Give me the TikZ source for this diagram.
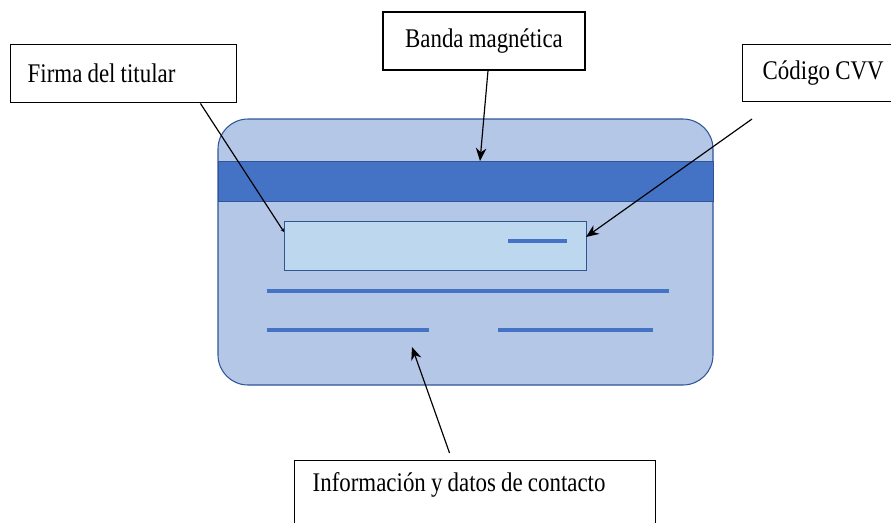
\documentclass[tikz,border=0pt]{standalone}
\usepackage{fontspec}
\setmainfont[FakeStretch=0.85, WordSpace=0.9]{Liberation Serif}
\usetikzlibrary{positioning,arrows.meta}
\definecolor{tarjeta}{HTML}{B4C7E7}
\definecolor{borde}{HTML}{2F5597}
\definecolor{azulbanda}{HTML}{4472C4}
\definecolor{azulpanel}{HTML}{BDD7EE}
\tikzset{
  caja/.style={draw, line width=1.2pt, fill=white, font=\fontsize{23}{26}\selectfont, inner sep=0pt},
  flecha/.style={-{Stealth[length=11pt,width=9pt]}, line width=1pt},
  raya/.style={draw=azulbanda, line width=2.6pt}
}

\begin{document}
\begin{tikzpicture}[x=0.03cm, y=-0.03cm]
  \clip (0,0) rectangle (891,522);

  % Tarjeta y banda
  \draw[fill=tarjeta, draw=borde, line width=0.9pt, rounded corners=0.9cm] (218,119) rectangle (713,385);
  \draw[fill=azulbanda, draw=borde, line width=0.8pt] (218,161) rectangle (713,201);
  \node[draw=borde, fill=azulpanel, line width=1pt, minimum width=9.06cm, minimum height=1.47cm, inner sep=0pt, anchor=north west] (panel) at (284,221) {};

  % Rayas de texto
  \draw[raya] (508,241) -- (567,241);
  \draw[raya] (267,291) -- (669,291);
  \draw[raya] (267,330) -- (429,330);
  \draw[raya] (498,330) -- (653,330);

  % Etiquetas
  \node[caja, minimum width=6.06cm, minimum height=1.74cm] (bandaMag) at (484,41) {Banda magnética};
  \node[caja, anchor=north west, text width=5.76cm, inner xsep=0.51cm, minimum height=1.74cm, align=flush left] (firma) at (10,44) {Firma del titular};
  \node[caja, anchor=north west, text width=4.8cm, inner xsep=0.6cm, minimum height=1.71cm, align=flush left] (cvv) at (742,44) {Código CVV};
  \node[caja, anchor=north west, text width=9.75cm, inner xsep=0.54cm, inner ysep=0.36cm, text depth=3cm, align=flush left] (info) at (294,460) {Información y datos de contacto};

  % Flechas
  \coordinate (tipBanda) at (480,161);
  \coordinate (tipFirma) at (284,232);
  \coordinate (inicioCvv) at (752,119);
  \coordinate (tipCvv) at (586,237);
  \coordinate (tipInfo) at (412,347);
  \draw[flecha] ([xshift=0.12cm]bandaMag.south) -- (tipBanda);
  \draw[flecha, -{Stealth[length=3pt,width=3pt]}] ([xshift=-1.11cm]firma.south east) -- (tipFirma);
  \draw[flecha] (inicioCvv) -- (tipCvv);
  \draw[flecha] ([shift={(-0.77cm,0.21cm)}]info.north) -- (tipInfo);
\end{tikzpicture}
\end{document}
